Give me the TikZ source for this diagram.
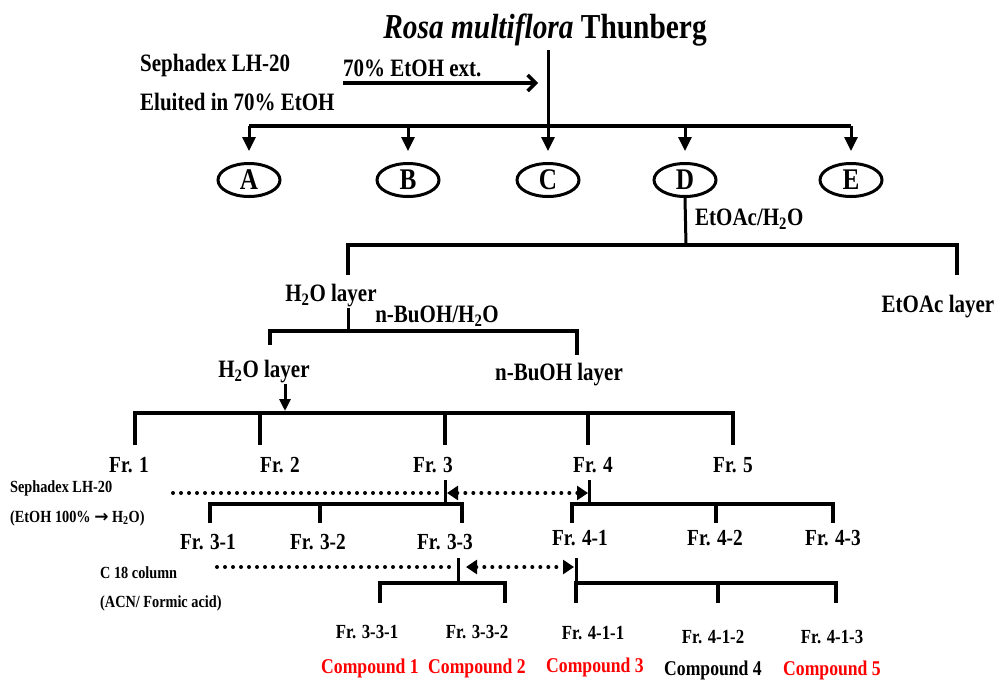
\documentclass[tikz,border=0pt]{standalone}
\usepackage{fontspec}
\setmainfont{Liberation Serif}[FakeStretch=0.84]
\newfontfamily\arrowfont{DejaVu Sans}
\usetikzlibrary{arrows.meta,positioning,shapes.geometric}

\tikzset{
  lab/.style={inner sep=0pt, font=\bfseries\fontsize{25}{28}\selectfont},
  frlab/.style={inner sep=0pt, font=\bfseries\fontsize{23}{26}\selectfont},
  sublab/.style={inner sep=0pt, font=\bfseries\fontsize{20}{24}\selectfont},
  note/.style={inner sep=0pt, anchor=west, font=\bfseries\fontsize{17}{20}\selectfont},
  cpd/.style={inner sep=0pt, font=\bfseries\fontsize{21}{24}\selectfont},
  fracbox/.style={draw, ellipse, line width=3pt, minimum width=62pt,
    minimum height=33pt, inner sep=0pt, font=\bfseries\fontsize{30}{32}\selectfont},
  bar/.style={line width=4pt},
  stem/.style={line width=3pt},
  downtip/.style={line width=3pt, -{Triangle[length=14pt,width=13pt]}},
  dots/.style={line width=4pt, line cap=round, dash pattern=on 0pt off 8pt},
  dotarrow/.style={dots, {Triangle[length=11pt,width=14pt]}-{Triangle[length=11pt,width=14pt]}},
}

\begin{document}
\begin{tikzpicture}[x=1pt, y=-1pt]
  \useasboundingbox (0,0) rectangle (998,681);

  \def\levone{126}  % first split
  \def\levfr{413}   % fractions
  \def\levsub{504}  % sub fractions
  \def\levsubsub{583}

  % extraction
  \node[inner sep=0pt, anchor=base, font=\bfseries\fontsize{35}{38}\selectfont]
    (rosa) at (545,38) {\textit{Rosa multiflora} Thunberg};
  \node[lab, anchor=west] (seph) at (140,65) {Sephadex LH-20};
  \node[lab, anchor=west] (elu) at (140,102) {Eluited in 70\% EtOH};
  \node[lab, anchor=west] (ext) at (343,68) {70\% EtOH ext.};
  \coordinate (arrS) at (343,83);
  \coordinate (arrE) at (538,83);
  \draw[line width=3.5pt, -{Straight Barb[length=8pt,width=16pt]}] (arrS) -- (arrE);

  \coordinate (top) at (548,50);
  \coordinate (split1) at (548,\levone);
  \draw[stem] (top) -- (split1);

  \foreach \n/\x in {A/249,B/408,C/548,D/685,E/851}
    \node[fracbox] (\n) at (\x,180) {\n};
  \draw[line width=4.5pt] (A |- split1) -- (E |- split1);
  \foreach \n in {A,B,C,D,E}
    \draw[downtip] (\n |- split1) -- ([yshift=11pt]\n.north);

  % partition of D
  \coordinate (split2) at (686,245);
  \draw[stem] (D.south) -- (split2);
  \node[lab, anchor=west] (eah) at (695,219) {EtOAc/H\textsubscript{2}O};
  \coordinate (h2oA) at (348,275);
  \coordinate (etoacA) at (957,275);
  \draw[bar] (h2oA) -- (h2oA |- split2) -- (etoacA |- split2) -- (etoacA);
  \node[lab] (h2o1) at (331,296) {H\textsubscript{2}O layer};
  \node[lab] (etoac) at (938,307) {EtOAc layer};

  \coordinate (split3) at (348,331);
  \draw[stem] (h2o1.south -| split3) -- (split3);
  \node[lab] (buh) at (437,316) {n-BuOH/H\textsubscript{2}O};
  \coordinate (h2oB) at (270,345);
  \coordinate (buB) at (577,355);
  \draw[bar] (h2oB) -- (h2oB |- split3) -- (buB |- split3) -- (buB);
  \node[lab] (h2o2) at (264,372) {H\textsubscript{2}O layer};
  \node[lab] (buoh) at (559,375) {n-BuOH layer};

  \coordinate (split4) at (285,\levfr);
  \draw[line width=3pt, -{Triangle[length=12pt,width=11pt]}]
    (h2o2.south -| split4) -- ([yshift=2pt]split4);

  % fractions 1-5
  \foreach \n/\x/\lx in {1/135/129, 2/260/280, 3/445/433, 4/588/593, 5/733/733} {
    \coordinate (d\n) at (\x,445);
    \node[frlab] (fr\n) at (\lx,465) {Fr. \n};
  }
  \draw[bar] (d1) -- (d1 |- split4) -- (d5 |- split4) -- (d5);
  \foreach \n in {2,3,4}
    \draw[bar] (d\n) -- (d\n |- split4);

  \node[note] (sephB) at (10,488) {Sephadex LH-20};
  \node[note] (eluB) at (10,518) {(EtOH 100\% {\arrowfont\bfseries →} H\textsubscript{2}O)};

  % Fr. 3 and Fr. 4
  \coordinate (s3) at (445,480);
  \coordinate (s4) at (589,480);
  \coordinate (b3) at (445,\levsub);
  \coordinate (b4) at (589,\levsub);
  \draw[stem] (s3) -- (b3);
  \draw[stem] (s4) -- (b4);
  \foreach \n/\x in {31/210, 32/320, 33/462, 41/572, 42/716, 43/833}
    \coordinate (e\n) at (\x,523);
  \draw[bar] (e31) -- (e31 |- b3) -- (e33 |- b3) -- (e33);
  \draw[bar] (e32) -- (e32 |- b3);
  \draw[bar] (e41) -- (e41 |- b4) -- (e43 |- b4) -- (e43);
  \draw[bar] (e42) -- (e42 |- b4);

  \coordinate (dot3) at (173,493);
  \draw[dots] (dot3) -- ([xshift=-6pt]dot3 -| s3);
  \draw[dotarrow] ([xshift=2pt]dot3 -| s3) -- ([xshift=-1pt]dot3 -| s4);

  \node[frlab] (fr31) at (208,542) {Fr. 3-1};
  \node[frlab] (fr32) at (318,542) {Fr. 3-2};
  \node[frlab] (fr33) at (445,542) {Fr. 3-3};
  \node[frlab] (fr41) at (580,538) {Fr. 4-1};
  \node[frlab] (fr42) at (715,538) {Fr. 4-2};
  \node[frlab] (fr43) at (833,538) {Fr. 4-3};

  \node[note] (c18) at (100,573) {C 18 column};
  \node[note] (acn) at (100,603) {(ACN/ Formic acid)};

  % Fr. 3-3 and Fr. 4-1
  \coordinate (s33) at (458,558);
  \coordinate (s41) at (576,558);
  \coordinate (b33) at (458,\levsubsub);
  \coordinate (b41) at (576,\levsubsub);
  \draw[stem] (s33) -- (b33);
  \draw[stem] (s41) -- (b41);
  \foreach \n/\x in {331/380, 332/505, 411/576, 412/718, 413/836}
    \coordinate (e\n) at (\x,603);
  \draw[bar] (e331) -- (e331 |- b33) -- (e332 |- b33) -- (e332);
  \draw[bar] (e411) -- (e411 |- b41) -- (e413 |- b41) -- (e413);
  \draw[bar] (e412) -- (e412 |- b41);

  \coordinate (dot33) at (217,567);
  \draw[dots] (dot33) -- ([xshift=-6pt]dot33 -| s33);
  \draw[dotarrow] ([xshift=8pt]dot33 -| s33) -- ([xshift=-2pt]dot33 -| s41);

  \node[sublab] (fr331) at (367,632) {Fr. 3-3-1};
  \node[sublab] (fr332) at (477,632) {Fr. 3-3-2};
  \node[sublab] (fr411) at (593,633) {Fr. 4-1-1};
  \node[sublab] (fr412) at (713,637) {Fr. 4-1-2};
  \node[sublab] (fr413) at (832,637) {Fr. 4-1-3};

  \node[cpd, text=red] (cp1) at (370,668) {Compound 1};
  \node[cpd, text=red] (cp2) at (477,668) {Compound 2};
  \node[cpd, text=red] (cp3) at (595,667) {Compound 3};
  \node[cpd] (cp4) at (713,670) {Compound 4};
  \node[cpd, text=red] (cp5) at (832,670) {Compound 5};

\end{tikzpicture}
\end{document}
